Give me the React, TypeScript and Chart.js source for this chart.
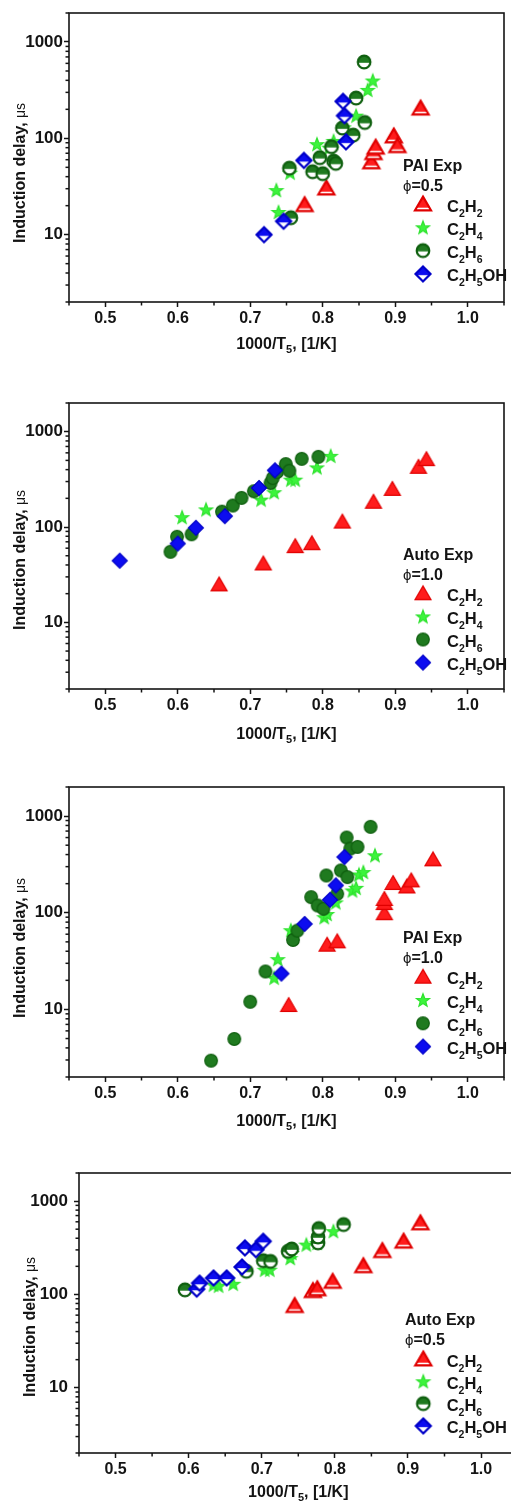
import React, { useEffect, useRef } from "react";
import { Chart, registerables } from "chart.js";
Chart.register(...registerables);

type Pt = [number, number];
type Part = [string, boolean];

// ---------- shared axis / label data ----------
const seriesLabels = ["C2H2", "C2H4", "C2H6", "C2H5OH"];
const seriesLabelParts: Part[][] = [
  [["C", false], ["2", true], ["H", false], ["2", true]],
  [["C", false], ["2", true], ["H", false], ["4", true]],
  [["C", false], ["2", true], ["H", false], ["6", true]],
  [["C", false], ["2", true], ["H", false], ["5", true], ["OH", false]],
];
const xMajorTicks = [0.5, 0.6, 0.7, 0.8, 0.9, 1.0];
const xMinorTicks = [0.45, 0.55, 0.65, 0.75, 0.85, 0.95, 1.05];
const yMajorTicks = [10, 100, 1000];
const yMinorTicks = [2, 3, 4, 5, 6, 7, 8, 9, 20, 30, 40, 50, 60, 70, 80, 90, 200, 300, 400, 500, 600, 700, 800, 900, 2000];
const xMin = 0.45;
const xMax = 1.05;
const yMin = 2;
const yMax = 2000;
const xTitleParts: Part[] = [["1000/T", false], ["5", true], [", [1/K]", false]];
const yTitleMain = "Induction delay, ";
const yTitleUnit = "\u03bcs";
const panelTitles = ["PAI Exp", "Auto Exp", "PAI Exp", "Auto Exp"];
const panelPhi = ["0.5", "1.0", "1.0", "0.5"];

// ---------- data: panel 1  (PAI Exp, phi = 0.5) ----------
const pai05C2H2: Pt[] = [[0.775, 20.5], [0.805, 30.5], [0.867, 57], [0.870, 71], [0.873, 81], [0.898, 106], [0.903, 84], [0.935, 206]];
const pai05C2H4: Pt[] = [[0.736, 29], [0.739, 17.2], [0.755, 44], [0.792, 87], [0.809, 80], [0.815, 94], [0.829, 130], [0.846, 172], [0.862, 318], [0.869, 398]];
const pai05C2H6: Pt[] = [[0.754, 49], [0.756, 15], [0.786, 45], [0.796, 63], [0.800, 43], [0.812, 82], [0.815, 58], [0.818, 55], [0.827, 128], [0.842, 108], [0.846, 262], [0.858, 146], [0.857, 620]];
const pai05C2H5OH: Pt[] = [[0.719, 10], [0.746, 13.8], [0.774, 59], [0.828, 242], [0.830, 172], [0.832, 92]];

// ---------- data: panel 2  (Auto Exp, phi = 1.0) ----------
const auto10C2H2: Pt[] = [[0.657, 25], [0.718, 41.5], [0.762, 63], [0.785, 67.6], [0.827, 114], [0.870, 184], [0.896, 251], [0.932, 428], [0.943, 515]];
const auto10C2H4: Pt[] = [[0.606, 127], [0.639, 153], [0.715, 194], [0.733, 232], [0.756, 314], [0.762, 314], [0.792, 422], [0.811, 558]];
const auto10C2H6: Pt[] = [[0.590, 55], [0.599, 79], [0.619, 84], [0.661, 145], [0.676, 168], [0.688, 202], [0.705, 237], [0.728, 290], [0.731, 326], [0.737, 377], [0.749, 457], [0.754, 389], [0.771, 519], [0.794, 545]];
const auto10C2H5OH: Pt[] = [[0.520, 44.3], [0.600, 67], [0.625, 98], [0.665, 130], [0.712, 257], [0.734, 393]];

// ---------- data: panel 3  (PAI Exp, phi = 1.0) ----------
const pai10C2H2: Pt[] = [[0.753, 11.1], [0.806, 46.7], [0.820, 50.6], [0.885, 99], [0.885, 126], [0.885, 139], [0.897, 203], [0.916, 187], [0.922, 216], [0.952, 357]];
const pai10C2H4: Pt[] = [[0.733, 21.3], [0.738, 33.1], [0.756, 66], [0.802, 90], [0.806, 97], [0.818, 128], [0.841, 170], [0.846, 181], [0.850, 249], [0.856, 264], [0.872, 393]];
const pai10C2H6: Pt[] = [[0.646, 2.95], [0.678, 4.95], [0.700, 12], [0.721, 24.7], [0.759, 52.3], [0.765, 65.3], [0.784, 145], [0.793, 119], [0.801, 110], [0.805, 243], [0.820, 157], [0.825, 274], [0.834, 234], [0.833, 600], [0.838, 461], [0.848, 480], [0.866, 774]];
const pai10C2H5OH: Pt[] = [[0.743, 23.5], [0.775, 76.6], [0.810, 136], [0.818, 192], [0.830, 377]];

// ---------- data: panel 4  (Auto Exp, phi = 0.5) ----------
const auto05C2H2: Pt[] = [[0.745, 76], [0.770, 110], [0.776, 115], [0.797, 138], [0.839, 203], [0.865, 295], [0.894, 372], [0.917, 585]];
const auto05C2H4: Pt[] = [[0.634, 127], [0.641, 124], [0.661, 130], [0.704, 184], [0.711, 184], [0.739, 245], [0.741, 278], [0.761, 342], [0.776, 356], [0.798, 476]];
const auto05C2H6: Pt[] = [[0.595, 112], [0.679, 177], [0.702, 230], [0.712, 226], [0.736, 290], [0.741, 307], [0.777, 357], [0.777, 413], [0.778, 508], [0.812, 561]];
const auto05C2H5OH: Pt[] = [[0.611, 114], [0.615, 132], [0.634, 150], [0.652, 150], [0.673, 197], [0.677, 315], [0.692, 302], [0.702, 371]];

const panelData: Pt[][][] = [
  [pai05C2H2, pai05C2H4, pai05C2H6, pai05C2H5OH],
  [auto10C2H2, auto10C2H4, auto10C2H6, auto10C2H5OH],
  [pai10C2H2, pai10C2H4, pai10C2H6, pai10C2H5OH],
  [auto05C2H2, auto05C2H4, auto05C2H6, auto05C2H5OH],
];

// ---------- styles ----------
const FF = "'Liberation Sans', Arial, Helvetica, sans-serif";
const INK = "#141414";
const shapes = ["triangle", "star", "circle", "diamond"];
const fillColors = ["#ff1c1c", "#3cf43c", "#1f7a1f", "#0c0cf0"];
const edgeColors = ["#e00000", "#2ee22e", "#0f5f0f", "#0000c8"];
const panelHalfFilled = [true, false, false, true];

// layout (page coordinates)
const layouts = [
  { top: 0, height: 370, width: 511, left: 69, right: 508, ctop: 13, cbottom: 302, yPad: 1,
    leg: { tx: 403, mx: 423, lx: 447, l1: 170.5, l2: 190.5, r0: 204, dy: 23.3 }, xtBase: 349, yt: { x: 25, y: 243 } },
  { top: 375, height: 380, width: 511, left: 69, right: 508, ctop: 403, cbottom: 689, yPad: 1,
    leg: { tx: 403, mx: 423, lx: 447, l1: 560, l2: 580, r0: 593.3, dy: 23.1 }, xtBase: 738.5, yt: { x: 25, y: 630 } },
  { top: 760, height: 380, width: 511, left: 69, right: 508, ctop: 787, cbottom: 1077, yPad: 1,
    leg: { tx: 403, mx: 423, lx: 447, l1: 943.3, l2: 963.3, r0: 976.7, dy: 23.3 }, xtBase: 1126, yt: { x: 25, y: 1018 } },
  { top: 1145, height: 358, width: 540, left: 79, right: 517.6, ctop: 1173, cbottom: 1453, yPad: 6,
    leg: { tx: 405, mx: 423.3, lx: 446.7, l1: 1325, l2: 1345, r0: 1359, dy: 22.3 }, xtBase: 1496.5, yt: { x: 35, y: 1397 } },
];

function tracePath(ctx: CanvasRenderingContext2D, shape: string, cx: number, cy: number) {
  ctx.beginPath();
  if (shape === "triangle") {
    ctx.moveTo(cx, cy - 7.4);
    ctx.lineTo(cx + 8.0, cy + 6.3);
    ctx.lineTo(cx - 8.0, cy + 6.3);
    ctx.closePath();
  } else if (shape === "circle") {
    ctx.arc(cx, cy, 6.3, 0, Math.PI * 2);
    ctx.closePath();
  } else if (shape === "diamond") {
    const d = 7.5;
    ctx.moveTo(cx, cy - d);
    ctx.lineTo(cx + d, cy);
    ctx.lineTo(cx, cy + d);
    ctx.lineTo(cx - d, cy);
    ctx.closePath();
  } else {
    const ro = 6.9, ri = 2.9;
    for (let k = 0; k < 10; k++) {
      const r = k % 2 === 0 ? ro : ri;
      const a = -Math.PI / 2 + (k * Math.PI) / 5;
      const px = cx + r * Math.cos(a);
      const py = cy + r * Math.sin(a) + 0.6;
      if (k === 0) ctx.moveTo(px, py);
      else ctx.lineTo(px, py);
    }
    ctx.closePath();
  }
}

function makeMarker(i: number, half: boolean): HTMLCanvasElement {
  const S = 22;
  const c = document.createElement("canvas");
  c.width = S;
  c.height = S;
  const ctx = c.getContext("2d")!;
  const cx = S / 2, cy = S / 2;
  const shape = shapes[i];
  const useHalf = half && shape !== "star";
  tracePath(ctx, shape, cx, cy);
  if (useHalf) {
    ctx.fillStyle = "#ffffff";
    ctx.fill();
    ctx.save();
    tracePath(ctx, shape, cx, cy);
    ctx.clip();
    ctx.fillStyle = fillColors[i];
    const split = shape === "triangle" ? cy + 3.7 : shape === "circle" ? cy + 0.8 : cy + 1.2;
    ctx.fillRect(0, 0, S, split);
    ctx.restore();
  } else {
    ctx.fillStyle = fillColors[i];
    ctx.fill();
  }
  tracePath(ctx, shape, cx, cy);
  ctx.lineWidth = useHalf ? 2.2 : 1.2;
  ctx.lineJoin = "miter";
  ctx.strokeStyle = edgeColors[i];
  ctx.stroke();
  return c;
}

function drawParts(ctx: CanvasRenderingContext2D, parts: Part[], x: number, y: number, size: number, subSize: number, subDy: number) {
  let cx = x;
  for (const [t, sub] of parts) {
    ctx.font = sub ? `bold ${subSize}px ${FF}` : `bold ${size}px ${FF}`;
    ctx.fillText(t, cx, sub ? y + subDy : y);
    cx += ctx.measureText(t).width;
  }
  return cx - x;
}

function partsWidth(ctx: CanvasRenderingContext2D, parts: Part[], size: number, subSize: number) {
  let w = 0;
  for (const [t, sub] of parts) {
    ctx.font = sub ? `bold ${subSize}px ${FF}` : `bold ${size}px ${FF}`;
    w += ctx.measureText(t).width;
  }
  return w;
}

function makeDecor(p: number, markers: HTMLCanvasElement[]) {
  const L = layouts[p];
  return {
    id: "decor" + p,
    beforeDatasetsDraw(chart: any) {
      const { ctx, chartArea: a } = chart;
      ctx.save();
      ctx.strokeStyle = INK;
      ctx.lineWidth = 1.6;
      ctx.strokeRect(a.left, a.top, a.right - a.left, a.bottom - a.top);
      ctx.restore();
    },
    afterDraw(chart: any) {
      const { ctx, chartArea: a, scales } = chart;
      const xs = scales.x, ys = scales.y;
      const oy = L.top;
      ctx.save();
      ctx.strokeStyle = INK;
      ctx.lineWidth = 1.5;
      // minor ticks
      for (const v of xMinorTicks) {
        const px = xs.getPixelForValue(v);
        if (px < a.left - 1 || px > a.right + 1) continue;
        ctx.beginPath();
        ctx.moveTo(px, a.bottom);
        ctx.lineTo(px, a.bottom + 3.5);
        ctx.stroke();
      }
      for (const v of yMinorTicks) {
        const py = ys.getPixelForValue(v);
        if (py < a.top - 1 || py > a.bottom + 1) continue;
        ctx.beginPath();
        ctx.moveTo(a.left, py);
        ctx.lineTo(a.left - 3.5, py);
        ctx.stroke();
      }
      ctx.fillStyle = INK;
      ctx.textBaseline = "alphabetic";
      ctx.textAlign = "left";
      // x title
      const tw = partsWidth(ctx, xTitleParts, 16, 11);
      const cxm = (a.left + a.right) / 2;
      drawParts(ctx, xTitleParts, cxm - tw / 2, L.xtBase - oy, 16, 11, 4);
      // y title
      ctx.save();
      ctx.translate(L.yt.x, L.yt.y - oy);
      ctx.rotate(-Math.PI / 2);
      ctx.font = `bold 16px ${FF}`;
      ctx.fillText(yTitleMain, 0, 0);
      const w1 = ctx.measureText(yTitleMain).width;
      ctx.font = `14px ${FF}`;
      ctx.fillText(yTitleUnit, w1, 0);
      ctx.restore();
      // legend
      const lg = L.leg;
      ctx.font = `bold 16px ${FF}`;
      ctx.fillText(panelTitles[p], lg.tx, lg.l1 - oy);
      ctx.font = `15px ${FF}`;
      ctx.fillText("\u03d5", lg.tx, lg.l2 - oy);
      const pw = ctx.measureText("\u03d5").width;
      ctx.font = `bold 16px ${FF}`;
      ctx.fillText("=" + panelPhi[p], lg.tx + pw, lg.l2 - oy);
      for (let i = 0; i < 4; i++) {
        const my = lg.r0 + i * lg.dy - oy;
        const m = markers[i];
        ctx.drawImage(m, lg.mx - m.width / 2, my - m.height / 2);
        drawParts(ctx, seriesLabelParts[i], lg.lx, my + 7.5, 16.5, 10.5, 5);
      }
      ctx.restore();
    },
  };
}

function buildChart(canvas: HTMLCanvasElement, p: number) {
  const L = layouts[p];
  const half = panelHalfFilled[p];
  const markers = [0, 1, 2, 3].map((i) => makeMarker(i, half));
  const xTickFont = { family: FF, size: 16, weight: "bold" as const };
  const yTickFont = { family: FF, size: 17, weight: "bold" as const };
  const xAxisH = L.top + L.height - L.cbottom;
  return new Chart(canvas, {
    type: "scatter",
    data: {
      datasets: panelData[p].map((pts, i) => ({
        label: seriesLabels[i],
        data: pts.map(([x, y]) => ({ x, y })),
        pointStyle: markers[i] as any,
        pointRadius: 6,
        pointHoverRadius: 6,
        showLine: false,
        order: 3 - i,
        clip: false as any,
      })),
    },
    options: {
      animation: false,
      responsive: false,
      devicePixelRatio: 1,
      events: [],
      layout: { padding: { top: L.ctop - L.top, right: L.width - L.right, bottom: 0, left: 0 } },
      plugins: { legend: { display: false }, tooltip: { enabled: false }, title: { display: false } },
      scales: {
        x: {
          type: "linear",
          min: xMin,
          max: xMax,
          afterBuildTicks: (s: any) => {
            s.ticks = xMajorTicks.map((v) => ({ value: v }));
          },
          afterFit: (s: any) => {
            s.height = xAxisH;
          },
          ticks: {
            callback: (v: any) => Number(v).toFixed(1),
            font: xTickFont,
            color: INK,
            padding: 2,
            maxRotation: 0,
            autoSkip: false,
          },
          grid: { drawOnChartArea: false, drawTicks: true, tickLength: 5, tickWidth: 1.5, tickColor: INK },
          border: { display: false },
        },
        y: {
          type: "logarithmic",
          min: yMin,
          max: yMax,
          afterBuildTicks: (s: any) => {
            s.ticks = yMajorTicks.map((v) => ({ value: v }));
          },
          afterFit: (s: any) => {
            s.width = L.left;
          },
          ticks: {
            callback: (v: any) => String(v),
            font: yTickFont,
            color: INK,
            padding: L.yPad,
            autoSkip: false,
          },
          grid: { drawOnChartArea: false, drawTicks: true, tickLength: 5, tickWidth: 1.5, tickColor: INK },
          border: { display: false },
        },
      },
    },
    plugins: [makeDecor(p, markers)],
  });
}

function Panel({ p }: { p: number }) {
  const ref = useRef<HTMLCanvasElement | null>(null);
  const L = layouts[p];
  useEffect(() => {
    if (!ref.current) return;
    const chart = buildChart(ref.current, p);
    return () => chart.destroy();
  }, [p]);
  return (
    <div style={{ position: "absolute", left: 0, top: L.top, width: 511, height: L.height, overflow: "hidden", background: "#fff" }}>
      <canvas ref={ref} width={L.width} height={L.height} style={{ display: "block", width: L.width, height: L.height }} />
    </div>
  );
}

export default function App() {
  return (
    <div style={{ position: "absolute", left: 0, top: 0, width: 511, height: 1503, overflow: "hidden", background: "#fff" }}>
      {[0, 1, 2, 3].map((p) => (
        <Panel key={p} p={p} />
      ))}
    </div>
  );
}
